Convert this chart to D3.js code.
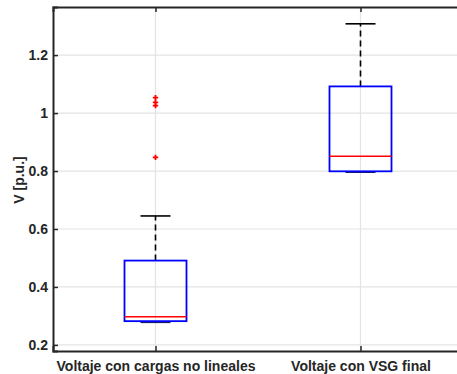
<!DOCTYPE html>
<html>
<head>
<meta charset="utf-8">
<script src="https://cdn.jsdelivr.net/npm/d3@7"></script>
<style>
  body { margin: 0; background: #fff; }
  text { font-family: "Liberation Sans", Arial, sans-serif; font-weight: bold; fill: #262626; }
</style>
</head>
<body>
<div class="chart"></div>
<script>
// data
let categories = ["Voltaje con cargas no lineales", "Voltaje con VSG final"];
let q1 = [0.282, 0.799];
let median = [0.297, 0.851];
let q3 = [0.491, 1.092];
let whiskerLow = [0.278, 0.796];
let whiskerHigh = [0.645, 1.308];
let outliers = [[1.053, 1.037, 1.026, 0.847], []];
let yTicks = [0.2, 0.4, 0.6, 0.8, 1, 1.2];

let width = 457, height = 374;

let svg = d3.select(".chart")
	.append("svg")
	.attr("width", width)
	.attr("height", height);

let x = d3.scaleLinear().domain([0.5, 2.5]).range([53, 463]);
let y = d3.scaleLinear().domain([0.179, 1.366]).range([351, 7]);

let boxHalf = 31, capHalf = 15;
let fontCss = "'Liberation Sans', Arial, sans-serif";

let rows = categories.map((c, i) => ({
	i: i + 1, c,
	q1: q1[i], med: median[i], q3: q3[i],
	lo: whiskerLow[i], hi: whiskerHigh[i],
	out: outliers[i]
}));

// grid
svg.append("g").selectAll("line")
	.data(yTicks).enter().append("line")
	.attr("x1", x(0.5)).attr("x2", x(2.5))
	.attr("y1", d => y(d)).attr("y2", d => y(d))
	.attr("stroke", "#e3e3e3").attr("stroke-width", 1.2);

svg.append("g").selectAll("line")
	.data(rows).enter().append("line")
	.attr("x1", d => x(d.i)).attr("x2", d => x(d.i))
	.attr("y1", y.range()[0]).attr("y2", y.range()[1])
	.attr("stroke", "#e3e3e3").attr("stroke-width", 1.2);

// axes
let yAxis = d3.axisLeft(y).tickValues(yTicks).tickSize(-5).tickPadding(5)
	.tickFormat(d => d3.format("")(+d.toFixed(1)));
let gy = svg.append("g").attr("transform", `translate(${x(0.5)},0)`).call(yAxis);
gy.select(".domain").attr("stroke", "#262626").attr("stroke-width", 2);
gy.selectAll(".tick line").attr("stroke", "#262626").attr("stroke-width", 1.5);
gy.selectAll("text").style("font-size", "14px").style("font-family", fontCss).style("font-weight", "bold").attr("fill", "#262626");

let xAxis = d3.axisBottom(x).tickValues(rows.map(d => d.i)).tickSize(-5).tickPadding(10)
	.tickFormat(d => categories[d - 1]);
let gx = svg.append("g").attr("transform", `translate(0,${y.range()[0]})`).call(xAxis);
gx.select(".domain").attr("stroke", "#262626").attr("stroke-width", 2);
gx.selectAll(".tick line").attr("stroke", "#262626").attr("stroke-width", 1.5);
gx.selectAll("text").style("font-size", "14px").style("font-family", fontCss).style("font-weight", "bold").attr("fill", "#262626");

let xTop = d3.axisTop(x).tickValues(rows.map(d => d.i)).tickSize(-5).tickFormat("");
let gt = svg.append("g").attr("transform", `translate(0,${y.range()[1]})`).call(xTop);
gt.select(".domain").attr("stroke", "#262626").attr("stroke-width", 2);
gt.selectAll(".tick line").attr("stroke", "#262626").attr("stroke-width", 1.5);

svg.append("text")
	.attr("transform", `translate(24,${(y(1.366) + y(0.179)) / 2 + 1}) rotate(-90)`)
	.attr("text-anchor", "middle")
	.style("font-size", "14px")
	.text("V [p.u.]");

// boxes
let g = svg.append("g");

g.selectAll(".whisker")
	.data(rows).enter().append("line")
	.attr("class", "whisker")
	.attr("x1", d => x(d.i)).attr("x2", d => x(d.i))
	.attr("y1", d => y(d.q3)).attr("y2", d => y(d.hi))
	.attr("stroke", "#000").attr("stroke-width", 1.6)
	.attr("stroke-dasharray", "6,4");

g.selectAll(".capHi")
	.data(rows).enter().append("line")
	.attr("x1", d => x(d.i) - capHalf).attr("x2", d => x(d.i) + capHalf)
	.attr("y1", d => y(d.hi)).attr("y2", d => y(d.hi))
	.attr("stroke", "#000").attr("stroke-width", 1.6);

g.selectAll(".capLo")
	.data(rows).enter().append("line")
	.attr("x1", d => x(d.i) - capHalf).attr("x2", d => x(d.i) + capHalf)
	.attr("y1", d => y(d.lo)).attr("y2", d => y(d.lo))
	.attr("stroke", "#1a1a66").attr("stroke-width", 1.6);

g.selectAll(".box")
	.data(rows).enter().append("rect")
	.attr("x", d => x(d.i) - boxHalf)
	.attr("width", boxHalf * 2)
	.attr("y", d => y(d.q3))
	.attr("height", d => y(d.q1) - y(d.q3))
	.attr("fill", "none").attr("stroke", "#0000ff").attr("stroke-width", 1.8);

g.selectAll(".median")
	.data(rows).enter().append("line")
	.attr("x1", d => x(d.i) - boxHalf).attr("x2", d => x(d.i) + boxHalf)
	.attr("y1", d => y(d.med)).attr("y2", d => y(d.med))
	.attr("stroke", "#ff0000").attr("stroke-width", 1.6);

// outliers
let pts = rows.flatMap(d => d.out.map(v => ({i: d.i, v})));
g.selectAll(".out")
	.data(pts).enter().append("path")
	.attr("d", d3.symbol(d3.symbolCross, 16))
	.attr("transform", d => `translate(${x(d.i)},${y(d.v)})`)
	.attr("fill", "#ff0000");
</script>
</body>
</html>
